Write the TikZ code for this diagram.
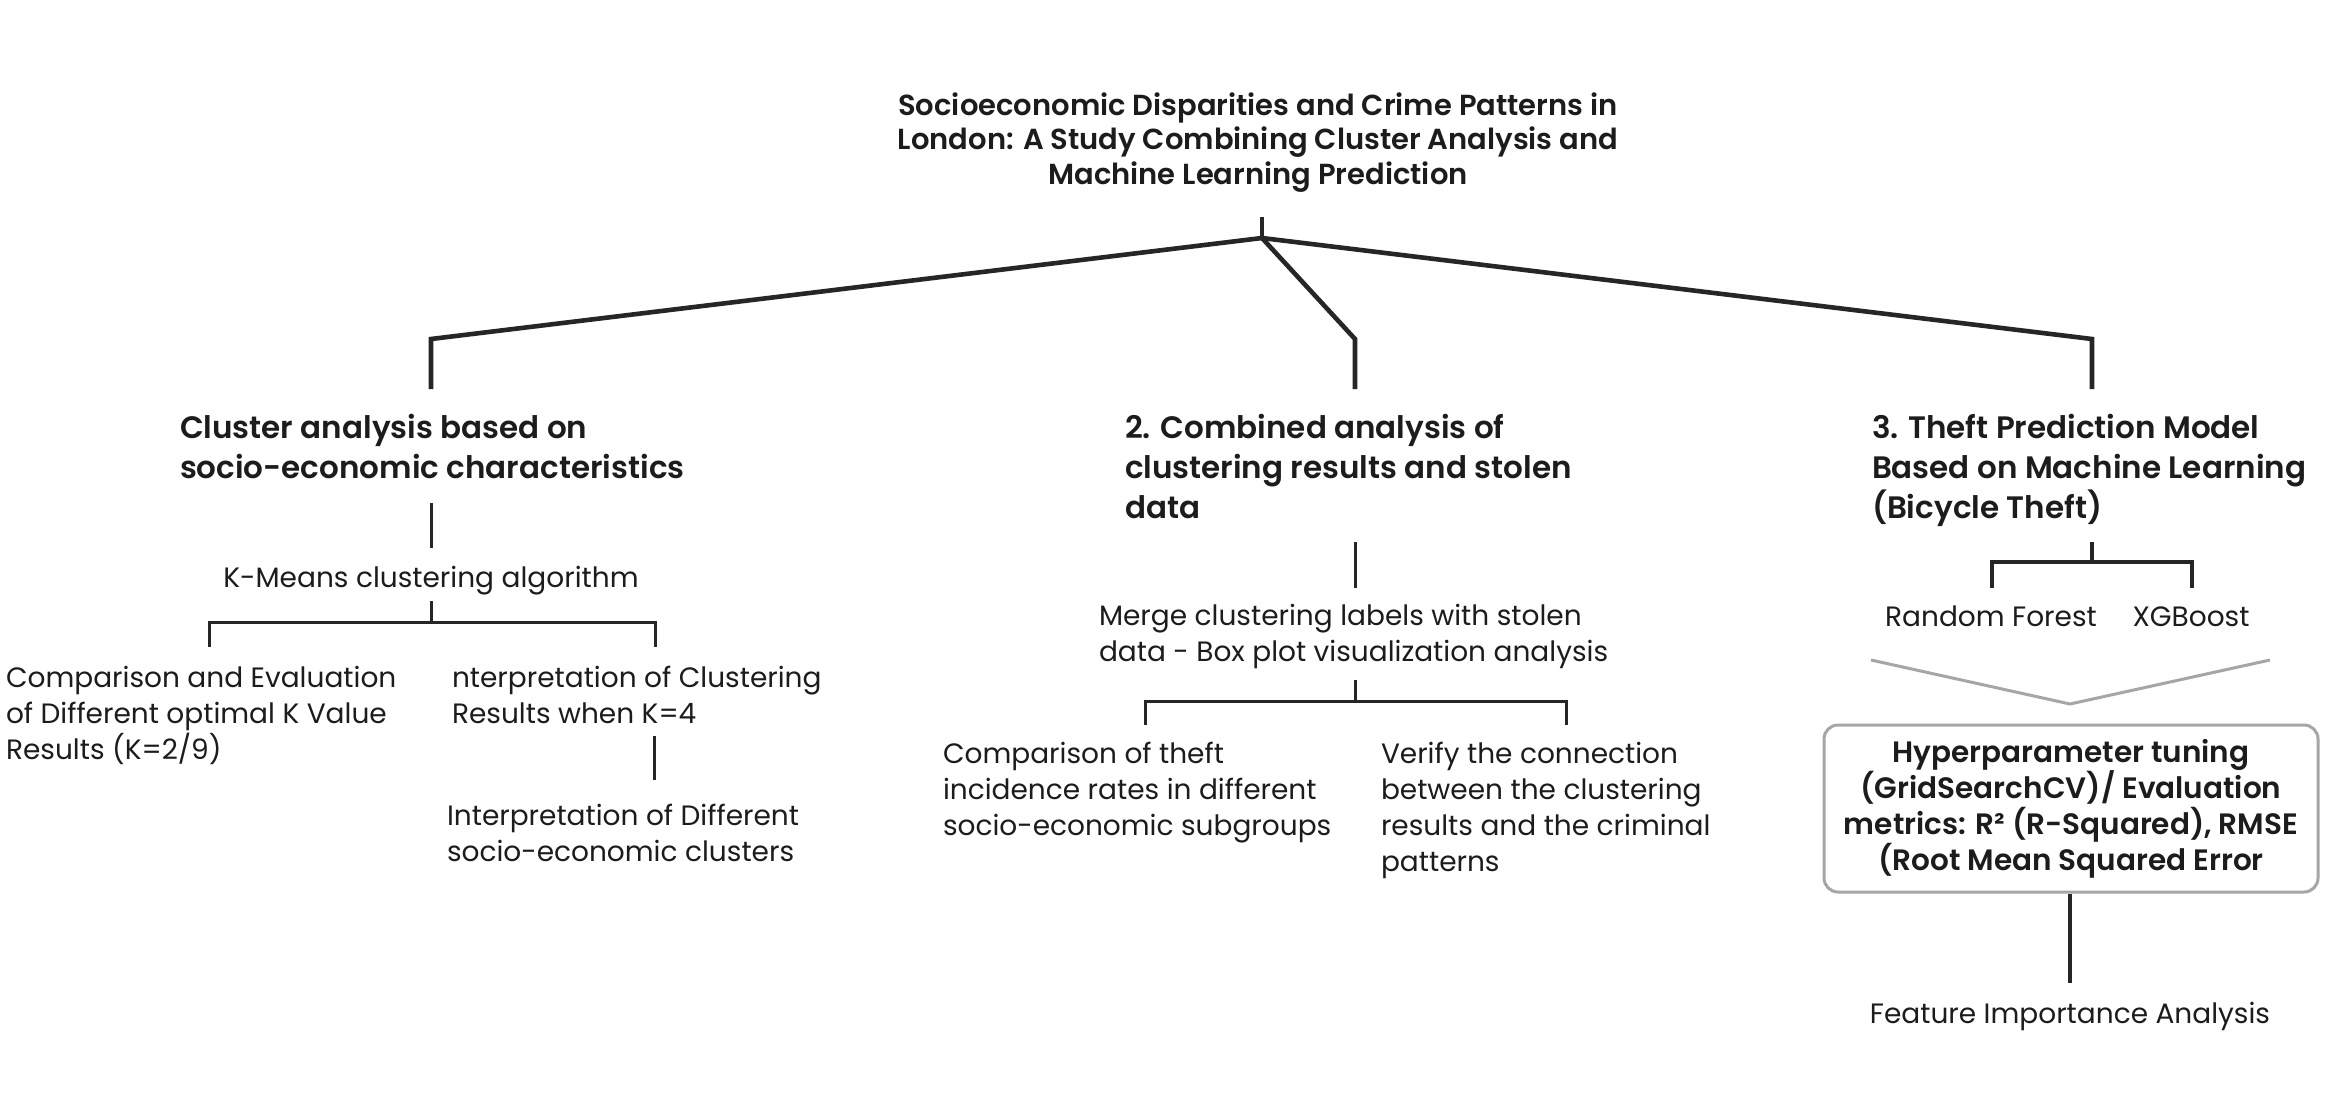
\documentclass[tikz,border=0pt]{standalone}
\usepackage{fontspec}
\setmainfont{Poppins}[BoldFont={Poppins SemiBold}]
\definecolor{ink}{HTML}{1C1C1C}
\definecolor{linec}{HTML}{262626}
\definecolor{grayc}{HTML}{A6A6A6}
\tikzset{
  txt/.style={inner sep=0pt, outer sep=0pt, text=ink, font=\fontsize{28}{36}\selectfont, align=left, anchor=base west},
  ctxt/.style={txt, align=center, anchor=base},
  head/.style={txt, font=\fontsize{31}{40}\selectfont\bfseries},
  ttl/.style={inner sep=0pt, text=ink, font=\fontsize{29}{34.5}\selectfont\bfseries, align=center, anchor=base},
  boxnode/.style={draw=grayc, line width=3pt, rounded corners=14pt, text=ink, font=\fontsize{29.5}{36}\selectfont\bfseries, align=center, minimum width=494pt, minimum height=167pt, inner sep=0pt},
  topline/.style={draw=linec, line width=4.6pt},
  conn/.style={draw=linec, line width=3pt},
  connb/.style={draw=linec, line width=3.2pt},
  gline/.style={draw=grayc, line width=3pt},
}
\begin{document}
\begin{tikzpicture}[x=1pt, y=-1pt]
\useasboundingbox (0,0) rectangle (2330,1104);
\fill[white] (0,0) rectangle (2330,1104);

% title (base anchor = baseline of last line)
\node[ttl] (title) at (1258,184) {Socioeconomic Disparities and Crime Patterns in\\London: A Study Combining Cluster Analysis and\\Machine Learning Prediction};

% level 1
\node[head] (c1) at (180,478) {Cluster analysis based on\\socio-economic characteristics};
\node[head] (c2) at (1125,518) {2. Combined analysis of\\clustering results and stolen\\data};
\node[head] (c3) at (1872,518) {3. Theft Prediction Model\\Based on Machine Learning\\(Bicycle Theft)};

% column 1
\node[ctxt] (km) at (431,587) {K-Means clustering algorithm};
\node[txt] (cmp) at (6,759) {Comparison and Evaluation\\of Different optimal K Value\\Results (K=2/9)};
\node[txt] (intp) at (452,723) {nterpretation of Clustering\\Results when K=4};
\node[txt] (intd) at (447,861) {Interpretation of Different\\socio-economic clusters};

% column 2
\node[txt] (merge) at (1099,661) {Merge clustering labels with stolen\\data - Box plot visualization analysis};
\node[txt] (theft) at (943,835) {Comparison of theft\\incidence rates in different\\socio-economic subgroups};
\node[txt] (verify) at (1381,871) {Verify the connection\\between the clustering\\results and the criminal\\patterns};

% column 3
\node[ctxt] (rf) at (1991,626) {Random Forest};
\node[ctxt] (xgb) at (2191,626) {XGBoost};
\node[boxnode] (hyp) at (2071,808.5) {Hyperparameter tuning\\(GridSearchCV)/ Evaluation\\metrics: R² (R-Squared), RMSE\\(Root Mean Squared Error};
\node[ctxt] (fia) at (2070,1023) {Feature Importance Analysis};

% coordinates
\coordinate (rt) at (1262,217);
\coordinate (rj) at (1262,238);
\coordinate (a1) at (431,339);  \coordinate (a1b) at (431,389);
\coordinate (a2) at (1355,339); \coordinate (a2b) at (1355,389);
\coordinate (a3) at (2092,339); \coordinate (a3b) at (2092,389);

\coordinate (k1t) at (431,503); \coordinate (k1b) at (431,548);
\coordinate (k2t) at (431,601); \coordinate (k2j) at (431,622);
\coordinate (kL) at (209,622);  \coordinate (kLb) at (209,647);
\coordinate (kR) at (655,622);  \coordinate (kRb) at (655,647);
\coordinate (i1t) at (654,736); \coordinate (i1b) at (654,780);

\coordinate (m1t) at (1355,542); \coordinate (m1b) at (1355,588);
\coordinate (m2t) at (1355,680); \coordinate (m2j) at (1355,701);
\coordinate (mL) at (1145,701);  \coordinate (mLb) at (1145,725);
\coordinate (mR) at (1566,701);  \coordinate (mRb) at (1566,725);

\coordinate (r1t) at (2092,542); \coordinate (r1j) at (2092,562);
\coordinate (rL) at (1992,562);  \coordinate (rLb) at (1992,588);
\coordinate (rR) at (2192,562);  \coordinate (rRb) at (2192,588);
\coordinate (gL) at (1871,660);  \coordinate (gM) at (2070,704); \coordinate (gR) at (2270,660);
\coordinate (fb) at (2070,983);

% connectors
\draw[topline] (rt) -- (rj);
\draw[topline, line join=miter] (rj) -- (a1) -- (a1b);
\draw[topline, line join=miter] (rj) -- (a2) -- (a2b);
\draw[topline, line join=miter] (rj) -- (a3) -- (a3b);

\draw[conn] (k1t) -- (k1b);
\draw[conn] (k2t) -- (k2j);
\draw[conn] (kLb) -- (kL) -- (kR) -- (kRb);
\draw[conn] (i1t) -- (i1b);

\draw[conn] (m1t) -- (m1b);
\draw[conn] (m2t) -- (m2j);
\draw[conn] (mLb) -- (mL) -- (mR) -- (mRb);

\draw[connb] (r1t) -- (r1j);
\draw[connb] (rLb) -- (rL) -- (rR) -- (rRb);
\draw[gline] (gL) -- (gM) -- (gR);
\draw[connb] (hyp.south -| fb) -- (fb);
\end{tikzpicture}
\end{document}
